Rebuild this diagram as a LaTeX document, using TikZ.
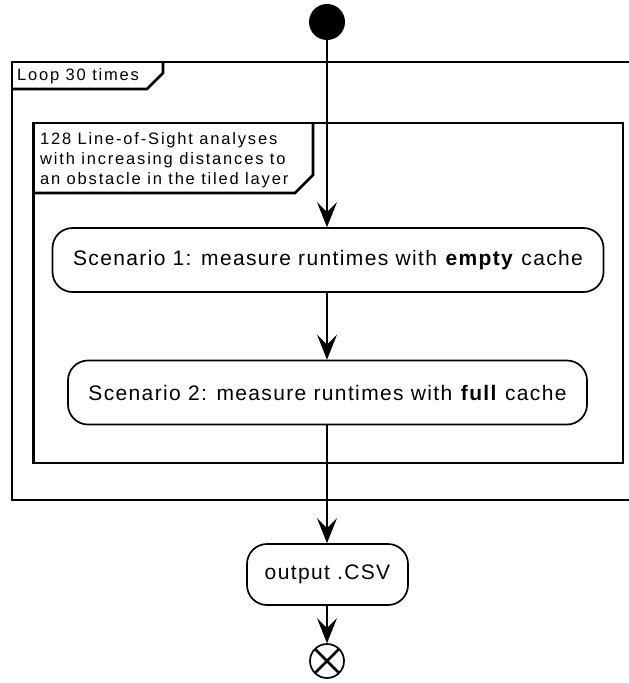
\documentclass[tikz,border=0pt]{standalone}
\usepackage{fontspec}
\setmainfont{Liberation Sans}
\newfontfamily\umlfont[LetterSpace=6.5]{Liberation Sans}
\newfontfamily\umlsmallfont[LetterSpace=11]{Liberation Sans}
\usetikzlibrary{arrows.meta,positioning,calc}

\tikzset{
  action/.style={draw, line width=1.7pt, rounded corners=20pt, minimum height=64pt, inner sep=0pt, font=\umlfont\fontsize{21}{24}\selectfont},
  framebox/.style={line width=2.7pt},
  flow/.style={line width=1.9pt, -{Stealth[length=25pt, width=20pt, inset=10pt]}},
  framelabel/.style={anchor=base west, align=left, inner sep=0pt, font=\umlsmallfont\fontsize{16.5}{20}\selectfont}
}

\begin{document}
\begin{tikzpicture}[x=1pt, y=-1pt]
    \useasboundingbox (0,0) rectangle (629,683);
    \clip (0,0) rectangle (629,683);

    % Outer loop frame
    \draw[framebox] (640,62) -- (12,62) -- (12,500) -- (640,500);
    \draw[framebox] (12,89) -- (147,89) -- (163,73) -- (163,62);
    \node[framelabel] (looplbl) at (17,80.5) {Loop 30 times};

    % Inner frame
    \draw[framebox] (33.5,123) rectangle (623,463);
    \draw[framebox] (33.5,193) -- (295,193) -- (313,175) -- (313,123);
    \node[framelabel] (loslbl) at (40,184) {128 Line-of-Sight analyses\\with increasing distances to\\an obstacle in the tiled layer};

    % Activities
    \node[circle, fill, minimum size=36pt, inner sep=0pt] (start) at (327,22) {};
    \node[action, minimum width=551pt] (scen1) at (328,260) {Scenario 1: measure runtimes with \textbf{empty} cache};
    \node[action, minimum width=519pt] (scen2) at (327.5,392.5) {Scenario 2: measure runtimes with \textbf{full} cache};
    \node[action, minimum width=161pt, minimum height=61pt] (output) at (327.5,574.5) {output .CSV};
    \node[circle, draw, line width=1.7pt, minimum size=34pt, inner sep=0pt,
          path picture={\draw[line width=2.6pt] (path picture bounding box.north west) -- (path picture bounding box.south east)
                        (path picture bounding box.south west) -- (path picture bounding box.north east);}] (stop) at (327,661) {};

    % Control flow
    \draw[flow] (start) -- (start |- scen1.north);
    \draw[flow] (scen1.south -| start) -- (scen2.north -| start);
    \draw[flow] (scen2.south -| start) -- (output.north -| start);
    \draw[flow] (output.south -| start) -- (stop);
\end{tikzpicture}
\end{document}
